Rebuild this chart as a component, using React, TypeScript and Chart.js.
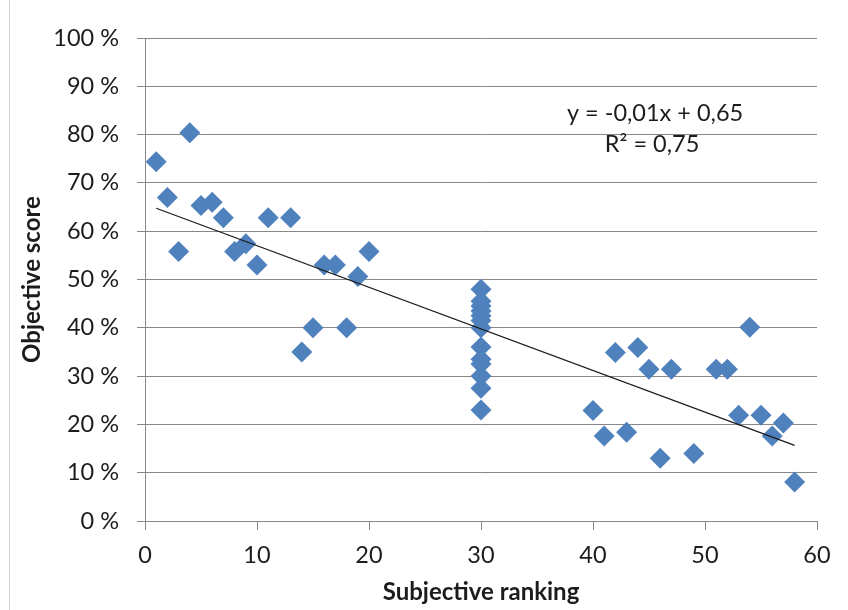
import React, { useEffect, useRef } from "react";
import { Chart, registerables } from "chart.js";

Chart.register(...registerables);

// Subjective ranking (x) for each image
const rankings = [
  1, 2, 3, 4, 5, 6, 7, 8, 9, 10, 11, 13, 14, 15, 16, 17, 18, 19, 20,
  30, 30, 30, 30, 30, 30, 30, 30, 30, 30, 30, 30, 30,
  40, 41, 42, 43, 44, 45, 46, 47, 49, 51, 52, 53, 54, 55, 56, 57, 58,
];

// Objective score (%) for each image
const scores = [
  74.4, 67, 55.8, 80.4, 65.3, 66, 62.8, 55.8, 57.4, 53, 62.8, 62.8, 35, 40, 53, 53, 40, 50.6, 55.8,
  48, 45.5, 44.5, 43.5, 42.5, 41.5, 40, 36, 33.5, 32.5, 30, 27.5, 23,
  22.9, 17.6, 34.9, 18.4, 35.9, 31.4, 13, 31.4, 14, 31.4, 31.4, 21.9, 40.1, 21.9, 17.6, 20.3, 8.1,
];

const xTickValues = [0, 10, 20, 30, 40, 50, 60];
const yTickValues = [0, 10, 20, 30, 40, 50, 60, 70, 80, 90, 100];

const xTitle = "Subjective ranking";
const yTitle = "Objective score";
const equationText = "y = -0,01x + 0,65";
const r2Text = "R² = 0,75";

const FONT = "Lato";
const TEXT_COLOR = "#1c1c1c";
const GRID_COLOR = "#878787";
const MARKER_COLOR = "#4F81BD";

function linearFit(xs: number[], ys: number[]) {
  const n = xs.length;
  const mx = xs.reduce((a, b) => a + b, 0) / n;
  const my = ys.reduce((a, b) => a + b, 0) / n;
  let sxy = 0;
  let sxx = 0;
  for (let i = 0; i < n; i++) {
    sxy += (xs[i] - mx) * (ys[i] - my);
    sxx += (xs[i] - mx) * (xs[i] - mx);
  }
  const slope = sxy / sxx;
  return { slope, intercept: my - slope * mx };
}

export default function App() {
  const canvasRef = useRef<HTMLCanvasElement | null>(null);

  useEffect(() => {
    const canvas = canvasRef.current;
    if (!canvas) return;

    const points = rankings.map((x, i) => ({ x, y: scores[i] }));
    const fit = linearFit(rankings, scores);
    const minX = Math.min(...rankings);
    const maxX = Math.max(...rankings);
    const trend = [
      { x: minX, y: fit.slope * minX + fit.intercept },
      { x: maxX, y: fit.slope * maxX + fit.intercept },
    ];

    const annotationPlugin = {
      id: "trendLabel",
      afterDatasetsDraw(chart: any) {
        const { ctx, chartArea } = chart;
        const w = chartArea.right - chartArea.left;
        const h = chartArea.bottom - chartArea.top;
        const cx = chartArea.left + w * 0.759;
        ctx.save();
        ctx.font = `23.5px ${FONT}`;
        ctx.fillStyle = TEXT_COLOR;
        ctx.textAlign = "center";
        ctx.textBaseline = "middle";
        ctx.fillText(equationText, cx, chartArea.top + h * 0.156);
        ctx.fillText(r2Text, cx - 3, chartArea.top + h * 0.22);
        ctx.restore();
      },
    };

    const chart = new Chart(canvas, {
      type: "scatter",
      data: {
        datasets: [
          {
            type: "line",
            label: "Trend",
            data: trend,
            borderColor: "#1a1a1a",
            borderWidth: 1.2,
            pointRadius: 0,
            fill: false,
            showLine: true,
          } as any,
          {
            label: "Scores",
            data: points,
            pointStyle: "rectRot",
            pointRadius: 10.5,
            pointHoverRadius: 10.5,
            backgroundColor: MARKER_COLOR,
            borderColor: MARKER_COLOR,
            borderWidth: 0,
          },
        ],
      },
      options: {
        responsive: false,
        animation: false,
        devicePixelRatio: 1,
        layout: { padding: { top: 38, right: 31, left: 0, bottom: 0 } },
        plugins: {
          legend: { display: false },
          tooltip: { enabled: false },
        },
        scales: {
          x: {
            type: "linear",
            min: 0,
            max: 60,
            afterBuildTicks: (scale: any) => {
              scale.ticks = xTickValues.map((v) => ({ value: v }));
            },
            afterFit: (scale: any) => {
              scale.height = 89;
            },
            ticks: {
              color: TEXT_COLOR,
              font: { family: FONT, size: 23.5 },
              padding: 11,
              maxRotation: 0,
            },
            grid: {
              drawOnChartArea: false,
              drawTicks: true,
              tickLength: 9,
              color: GRID_COLOR,
            },
            border: { display: true, color: GRID_COLOR, width: 1 },
            title: {
              display: true,
              text: xTitle,
              color: TEXT_COLOR,
              font: { family: FONT, size: 24, weight: "bold" },
              padding: { top: 0, bottom: 3 },
            },
          },
          y: {
            type: "linear",
            min: 0,
            max: 100,
            afterBuildTicks: (scale: any) => {
              scale.ticks = yTickValues.map((v) => ({ value: v }));
            },
            afterFit: (scale: any) => {
              scale.width = 145;
            },
            ticks: {
              color: TEXT_COLOR,
              font: { family: FONT, size: 23.5 },
              padding: 18,
              callback: (v: any) => `${v} %`,
            },
            grid: {
              drawTicks: true,
              tickLength: 8,
              color: GRID_COLOR,
            },
            border: { display: true, color: GRID_COLOR, width: 1 },
            title: {
              display: true,
              text: yTitle,
              color: TEXT_COLOR,
              font: { family: FONT, size: 24, weight: "bold" },
              padding: { top: 18, bottom: 0 },
            },
          },
        },
      },
      plugins: [annotationPlugin],
    });

    return () => chart.destroy();
  }, []);

  return (
    <div
      style={{
        position: "absolute",
        left: 0,
        top: 0,
        width: 848,
        height: 610,
        background: "#ffffff",
      }}
    >
      <div
        style={{
          position: "absolute",
          left: 9,
          top: 0,
          width: 0,
          height: 610,
          borderLeft: "1px solid #d4d4d4",
        }}
      />
      <canvas
        ref={canvasRef}
        width={848}
        height={610}
        style={{ position: "absolute", left: 0, top: 0, width: 848, height: 610 }}
      />
    </div>
  );
}
